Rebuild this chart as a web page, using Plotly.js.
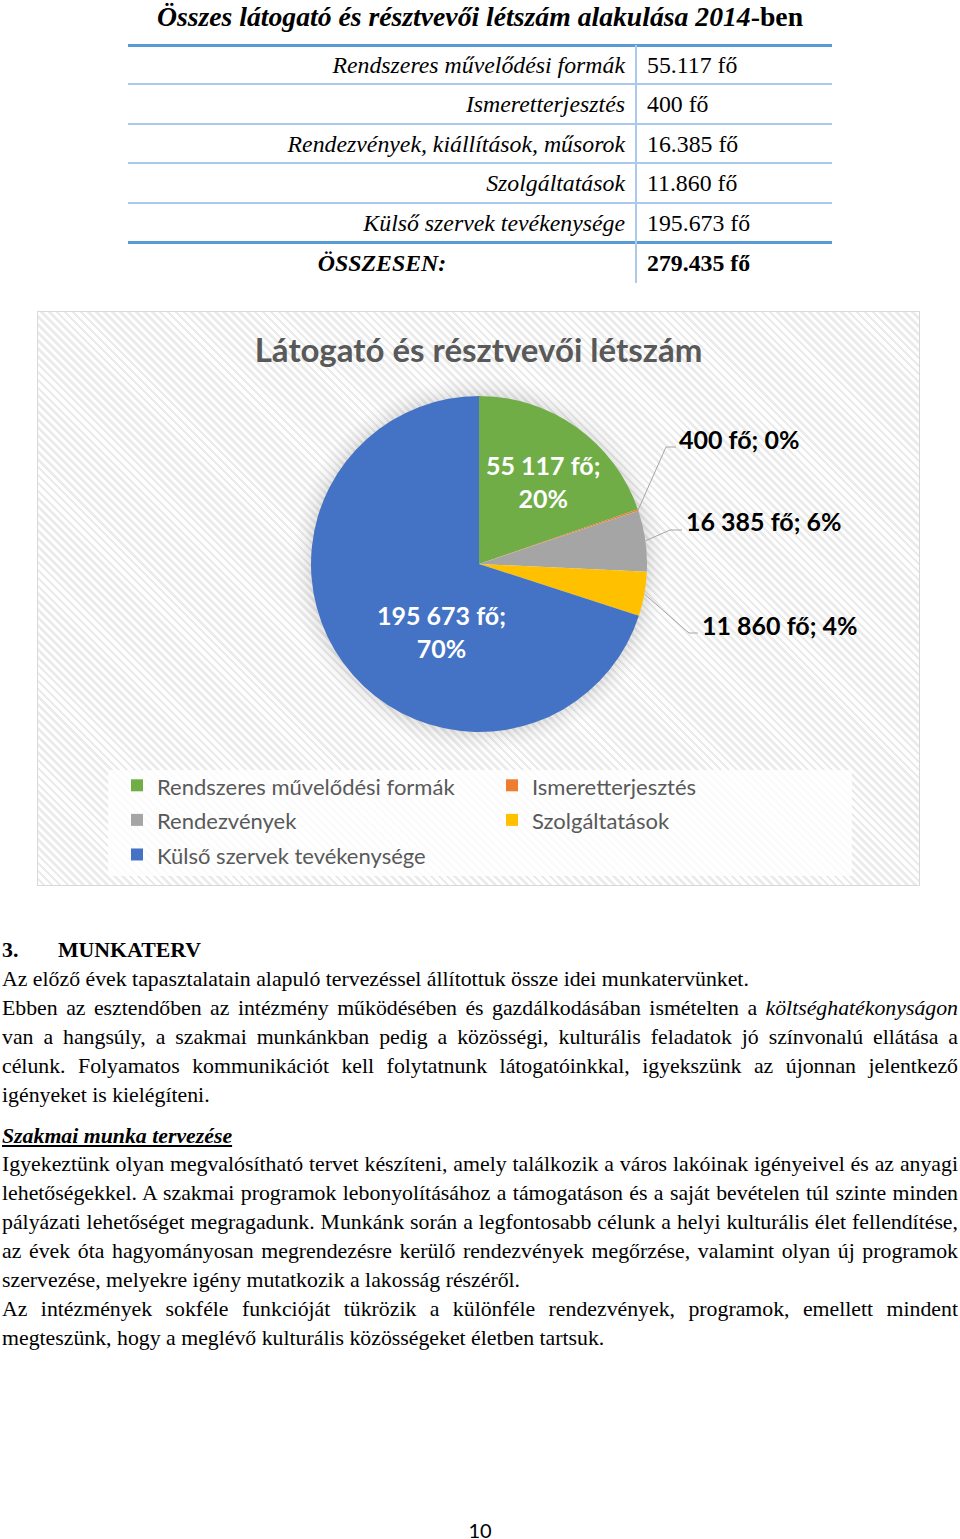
<!DOCTYPE html>
<html><head><meta charset="utf-8">
<script src="https://cdn.plot.ly/plotly-3.0.1.min.js"></script>
<style>
html,body{margin:0;padding:0;background:#fff;}
body{width:960px;height:1539px;position:relative;overflow:hidden;font-family:"Liberation Serif","Times New Roman",serif;color:#000;}
.abs{position:absolute;white-space:nowrap;}
#ttitle{left:0;width:960px;top:0;height:34px;line-height:34px;text-align:center;font-weight:bold;font-style:italic;font-size:27.7px;}
#ttitle span{font-style:normal;}
.tl{left:128px;width:497px;text-align:right;font-style:italic;font-size:23.8px;line-height:39px;}
.tv{left:647px;font-size:23.8px;line-height:39px;}
.hl{left:128px;width:704px;}
#chartWrap{position:absolute;left:37px;top:311px;width:881px;height:573px;border:1px solid #d9d9d9;
 background:
  radial-gradient(circle at 441px 252px, rgba(0,0,0,0) 165px, rgba(0,0,0,0.10) 168px, rgba(0,0,0,0.045) 176px, rgba(0,0,0,0) 188px),
  repeating-linear-gradient(45deg, #ffffff 0px, #ffffff 3px, #ebebeb 3px, #ebebeb 5.6px);}
#chart{position:absolute;left:0;top:0;width:881px;height:573px;}
.txt{position:absolute;left:2px;width:956px;font-size:21.8px;line-height:29px;white-space:nowrap;}
.j{text-align:justify;text-align-last:justify;white-space:normal;}
#pnum{position:absolute;left:430px;width:100px;top:1516px;text-align:center;font-family:Lato,"Open Sans",sans-serif;font-size:20px;line-height:28px;}
</style></head>
<body>
<div id="ttitle" class="abs">Összes látogató és résztvevői létszám alakulása 2014<span>-ben</span></div>
<div id="table"></div>
<div id="chartWrap"><div id="chart"></div></div>

<div class="txt" style="top:936px;font-weight:bold;">3.<span style="position:absolute;left:56px;">MUNKATERV</span></div>
<div class="txt" style="top:965px;">Az előző évek tapasztalatain alapuló tervezéssel állítottuk össze idei munkatervünket.</div>
<div class="txt j" style="top:994px;">Ebben az esztendőben az intézmény működésében és gazdálkodásában ismételten a <i>költséghatékonyságon</i></div>
<div class="txt j" style="top:1023px;">van a hangsúly, a szakmai munkánkban pedig a közösségi, kulturális feladatok jó színvonalú ellátása a</div>
<div class="txt j" style="top:1052px;">célunk. Folyamatos kommunikációt kell folytatnunk látogatóinkkal, igyekszünk az újonnan jelentkező</div>
<div class="txt" style="top:1081px;">igényeket is kielégíteni.</div>
<div class="txt" style="top:1122px;font-weight:bold;font-style:italic;"><u>Szakmai munka tervezése</u></div>
<div class="txt j" style="top:1150px;">Igyekeztünk olyan megvalósítható tervet készíteni, amely találkozik a város lakóinak igényeivel és az anyagi</div>
<div class="txt j" style="top:1179px;">lehetőségekkel. A szakmai programok lebonyolításához a támogatáson és a saját bevételen túl szinte minden</div>
<div class="txt j" style="top:1208px;">pályázati lehetőséget megragadunk. Munkánk során a legfontosabb célunk a helyi kulturális élet fellendítése,</div>
<div class="txt j" style="top:1237px;">az évek óta hagyományosan megrendezésre kerülő rendezvények megőrzése, valamint olyan új programok</div>
<div class="txt" style="top:1266px;">szervezése, melyekre igény mutatkozik a lakosság részéről.</div>
<div class="txt j" style="top:1295px;">Az intézmények sokféle funkcióját tükrözik a különféle rendezvények, programok, emellett mindent</div>
<div class="txt" style="top:1324px;">megteszünk, hogy a meglévő kulturális közösségeket életben tartsuk.</div>
<div id="pnum">10</div>

<script>
// ---- data ----
const categories = ['Rendszeres művelődési formák', 'Ismeretterjesztés', 'Rendezvények', 'Szolgáltatások', 'Külső szervek tevékenysége'];
const tableLabels = ['Rendszeres művelődési formák', 'Ismeretterjesztés', 'Rendezvények, kiállítások, műsorok', 'Szolgáltatások', 'Külső szervek tevékenysége'];
const visitors = [55117, 400, 16385, 11860, 195673];
const unit = 'fő';
const totalLabel = 'ÖSSZESEN:';
const chartTitle = 'Látogató és résztvevői létszám';
const sliceColors = ['#70AD47', '#ED7D31', '#A5A5A5', '#FFC000', '#4472C4'];

// ---- helpers ----
const total = visitors.reduce((a, b) => a + b, 0);
const grp = (n, sep) => String(n).replace(/\B(?=(\d{3})+(?!\d))/g, sep);
const pct = v => Math.round(v / total * 100);

// ---- table ----
(function buildTable() {
  const t = document.getElementById('table');
  const top0 = 45, rowH = 39.4;
  let html = '';
  html += `<div class="abs hl" style="top:${top0 - 1.5}px;height:3px;background:#5b9bd5;"></div>`;
  tableLabels.forEach((lab, i) => {
    const top = top0 + i * rowH;
    html += `<div class="abs tl" style="top:${top + 1}px;">${lab}</div>`;
    html += `<div class="abs tv" style="top:${top + 1}px;">${grp(visitors[i], '.')} ${unit}</div>`;
    const ly = top0 + (i + 1) * rowH;
    if (i < tableLabels.length - 1) {
      html += `<div class="abs hl" style="top:${ly - 1}px;height:2px;background:#a9cbe9;"></div>`;
    } else {
      html += `<div class="abs hl" style="top:${ly - 1.5}px;height:3px;background:#5b9bd5;"></div>`;
    }
  });
  const tTop = top0 + tableLabels.length * rowH;
  html += `<div class="abs" style="left:128px;width:508px;text-align:center;top:${tTop + 2}px;font-weight:bold;font-style:italic;font-size:23.8px;line-height:39px;">${totalLabel}</div>`;
  html += `<div class="abs tv" style="top:${tTop + 2}px;font-weight:bold;">${grp(total, '.')} ${unit}</div>`;
  html += `<div class="abs" style="left:635px;top:${top0}px;width:2px;height:${tTop + 41 - top0}px;background:#a9cbe9;"></div>`;
  t.innerHTML = html;
})();

// ---- chart ----
const W = 881, H = 573;
const cx = 441, cy = 252, R = 168;
const px = x => x / W, py = y => 1 - y / H;

const labelLayout = [
  {x: 505, y: 169.5, inside: true},
  {x: 639, y: 127.5, elbow: [628, 135], end: [638, 135]},
  {x: 646, y: 209.5, elbow: [632, 218], end: [644, 218]},
  {x: 662, y: 313, elbow: [651, 321], end: [660, 321]},
  {x: 403, y: 319, inside: true}
];

const annotations = [];
const shapes = [];
shapes.push({type: 'rect', xref: 'paper', yref: 'paper', x0: px(70), x1: px(814), y0: py(564), y1: py(458),
  fillcolor: 'rgba(255,255,255,0.8)', line: {width: 0}, layer: 'below'});

let cum = 0;
visitors.forEach((v, i) => {
  const L = labelLayout[i];
  const mid = (cum + v / 2) / total * 2 * Math.PI;
  cum += v;
  if (L.inside) {
    annotations.push({xref: 'paper', yref: 'paper', x: px(L.x), y: py(L.y), xanchor: 'center', yanchor: 'middle',
      text: `${grp(v, ' ')} ${unit};<br>${pct(v)}%`, showarrow: false,
      font: {family: 'Lato, "Open Sans", sans-serif', size: 25, color: '#ffffff', weight: 'bold'}});
  } else {
    annotations.push({xref: 'paper', yref: 'paper', x: px(L.x), y: py(L.y), xanchor: 'left', yanchor: 'middle',
      text: `${grp(v, ' ')} ${unit}; ${pct(v)}%`, showarrow: false,
      font: {family: 'Lato, "Open Sans", sans-serif', size: 25, color: '#000000', weight: 'bold'}});
    const sx = cx + R * Math.sin(mid), sy = cy - R * Math.cos(mid);
    shapes.push({type: 'path', xref: 'paper', yref: 'paper',
      path: `M ${px(sx)} ${py(sy)} L ${px(L.elbow[0])} ${py(L.elbow[1])} L ${px(L.end[0])} ${py(L.end[1])}`,
      line: {color: '#a6a6a6', width: 1}});
  }
});

const trace = {
  type: 'pie',
  labels: categories.map(c => `<span style="font-size:22px">${c}</span>`),
  values: visitors,
  sort: false,
  direction: 'clockwise',
  rotation: 0,
  marker: {colors: sliceColors, line: {width: 0}},
  textinfo: 'none',
  hoverinfo: 'label+value+percent',
  domain: {x: [px(cx - R), px(cx + R)], y: [py(cy + R), py(cy - R)]}
};

const layout = {
  width: W, height: H,
  margin: {l: 0, r: 0, t: 0, b: 0},
  paper_bgcolor: 'rgba(0,0,0,0)',
  plot_bgcolor: 'rgba(0,0,0,0)',
  title: {text: chartTitle, x: 0.5, xanchor: 'center', y: py(38), yref: 'container', yanchor: 'middle',
    font: {family: 'Lato, "Open Sans", sans-serif', size: 33, color: '#595959', weight: 'bold'}},
  showlegend: true,
  legend: {orientation: 'h', x: px(79), xanchor: 'left', y: py(451), yanchor: 'top',
    entrywidth: 330, entrywidthmode: 'pixels', bgcolor: 'rgba(0,0,0,0)',
    font: {family: 'Lato, "Open Sans", sans-serif', size: 24.3, color: '#595959'}, traceorder: 'normal'},
  annotations: annotations,
  shapes: shapes
};

Plotly.newPlot('chart', [trace], layout, {displayModeBar: false, staticPlot: true});
</script>
</body></html>
